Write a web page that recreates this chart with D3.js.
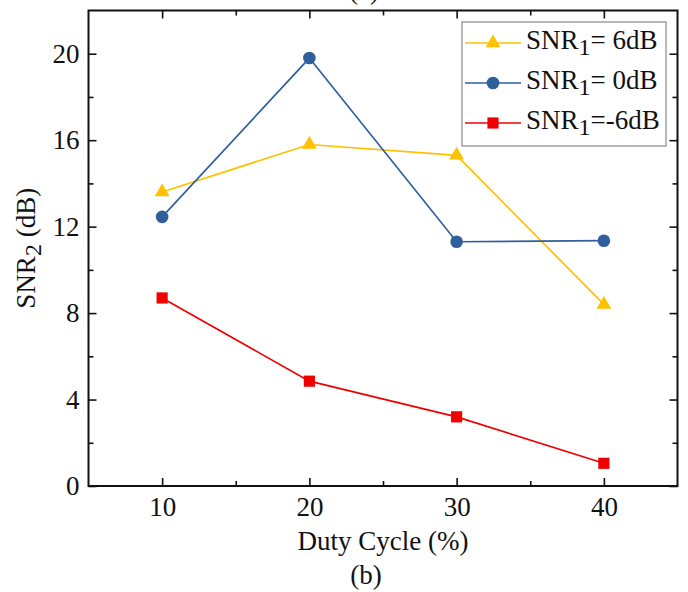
<!DOCTYPE html>
<html>
<head>
<meta charset="utf-8">
<script src="https://cdn.jsdelivr.net/npm/d3@7"></script>
<style>
  body { margin: 0; background: #fff; }
  text { font-family: "Liberation Serif", "Times New Roman", serif; fill: #111; }
</style>
</head>
<body>
<svg id="chart"></svg>
<script>
// Data
const dutyCycle = [10, 20, 30, 40];
const snrPos6 = [13.6, 15.8, 15.3, 8.4];
const snr0 = [12.45, 19.8, 11.3, 11.35];
const snrNeg6 = [8.7, 4.85, 3.2, 1.05];
const xTicks = [10, 20, 30, 40];
const yTicks = [0, 4, 8, 12, 16, 20];

const seriesList = [
  { label: "= 6dB", values: snrPos6, color: "#FFC000", symbol: d3.symbolTriangle, size: 95 },
  { label: "= 0dB", values: snr0, color: "#30609C", symbol: d3.symbolCircle, size: 125 },
  { label: "=-6dB", values: snrNeg6, color: "#F00000", symbol: d3.symbolSquare, size: 125 }
];

const width = 688;
const height = 592;
const margin = { top: 10.5, right: 10.5, bottom: 106, left: 88.5 };
const fontSize = 27;

const svg = d3.select("#chart").attr("width", width).attr("height", height);

const x = d3.scaleLinear().domain([5, 45]).range([margin.left, width - margin.right]);
const y = d3.scaleLinear().domain([0, 22]).range([height - margin.bottom, margin.top]);

const plotLeft = x.range()[0], plotRight = x.range()[1];
const plotTop = y.range()[1], plotBottom = y.range()[0];

// Inward ticks on all four sides
const majorLen = 8, minorLen = 5;
const xMinor = [15, 25, 35];
const yMinor = [2, 6, 10, 14, 18];

function drawAxis(axis, transform) {
  const g = svg.append("g").attr("transform", transform).call(axis);
  g.select(".domain").remove();
  g.selectAll(".tick line").attr("stroke", "#111").attr("stroke-width", 1.6);
  return g;
}

const bottomAxis = drawAxis(
  d3.axisBottom(x).tickValues(xTicks).tickSize(-majorLen).tickPadding(11),
  `translate(0,${plotBottom})`
);
bottomAxis.selectAll("text").attr("font-size", fontSize).attr("fill", "#111");
drawAxis(d3.axisBottom(x).tickValues(xMinor).tickSize(-minorLen).tickFormat(""), `translate(0,${plotBottom})`);
drawAxis(d3.axisTop(x).tickValues(xTicks).tickSize(-majorLen).tickFormat(""), `translate(0,${plotTop})`);
drawAxis(d3.axisTop(x).tickValues(xMinor).tickSize(-minorLen).tickFormat(""), `translate(0,${plotTop})`);

const leftAxis = drawAxis(
  d3.axisLeft(y).tickValues(yTicks).tickSize(-majorLen).tickPadding(9),
  `translate(${plotLeft},0)`
);
leftAxis.selectAll("text").attr("font-size", fontSize).attr("fill", "#111");
drawAxis(d3.axisLeft(y).tickValues(yMinor).tickSize(-minorLen).tickFormat(""), `translate(${plotLeft},0)`);
drawAxis(d3.axisRight(y).tickValues(yTicks).tickSize(-majorLen).tickFormat(""), `translate(${plotRight},0)`);
drawAxis(d3.axisRight(y).tickValues(yMinor).tickSize(-minorLen).tickFormat(""), `translate(${plotRight},0)`);

// Frame
svg.append("rect")
  .attr("x", plotLeft)
  .attr("y", plotTop)
  .attr("width", plotRight - plotLeft)
  .attr("height", plotBottom - plotTop)
  .attr("fill", "none")
  .attr("stroke", "#111")
  .attr("stroke-width", 2);

// Series
const line = d3.line().x(d => x(d.x)).y(d => y(d.y));

seriesList.forEach(s => {
  const pts = dutyCycle.map((dc, i) => ({ x: dc, y: s.values[i] }));
  svg.append("path")
    .datum(pts)
    .attr("d", line)
    .attr("fill", "none")
    .attr("stroke", s.color)
    .attr("stroke-width", 1.7);
  svg.selectAll(null)
    .data(pts)
    .enter()
    .append("path")
    .attr("d", d3.symbol().type(s.symbol).size(s.size))
    .attr("transform", d => `translate(${x(d.x)},${y(d.y)})`)
    .attr("fill", s.color);
});

// Legend
const legend = svg.append("g").attr("transform", "translate(462,22)");
legend.append("rect")
  .attr("width", 204)
  .attr("height", 124)
  .attr("fill", "#fff")
  .attr("stroke", "#a0a0a0")
  .attr("stroke-width", 1.5);

seriesList.forEach((s, i) => {
  const row = legend.append("g").attr("transform", `translate(0,${21 + i * 40})`);
  row.append("line")
    .attr("x1", 3).attr("x2", 59)
    .attr("stroke", s.color)
    .attr("stroke-width", 1.7);
  row.append("path")
    .attr("d", d3.symbol().type(s.symbol).size(s.size))
    .attr("transform", "translate(31,0)")
    .attr("fill", s.color);
  const t = row.append("text")
    .attr("x", 64)
    .attr("y", 6)
    .attr("font-size", fontSize);
  t.append("tspan").text("SNR");
  t.append("tspan").attr("dy", 6).attr("font-size", 24).text("1");
  t.append("tspan").attr("dy", -6).text(s.label);
});

// Axis titles
svg.append("text")
  .attr("x", (plotLeft + plotRight) / 2)
  .attr("y", 550)
  .attr("text-anchor", "middle")
  .attr("font-size", fontSize)
  .text("Duty Cycle (%)");

svg.append("text")
  .attr("x", 366)
  .attr("y", 584)
  .attr("text-anchor", "middle")
  .attr("font-size", fontSize)
  .text("(b)");

// caption of the panel above, cut by the top edge as in the figure
svg.append("text")
  .attr("x", 364)
  .attr("y", -1)
  .attr("text-anchor", "middle")
  .attr("font-size", fontSize)
  .text("(a)");

const yTitle = svg.append("text")
  .attr("transform", `translate(35,${(plotTop + plotBottom) / 2}) rotate(-90)`)
  .attr("text-anchor", "middle")
  .attr("font-size", fontSize);
yTitle.append("tspan").text("SNR");
yTitle.append("tspan").attr("dy", 6).attr("font-size", 24).text("2");
yTitle.append("tspan").attr("dy", -6).text(" (dB)");
</script>
</body>
</html>
